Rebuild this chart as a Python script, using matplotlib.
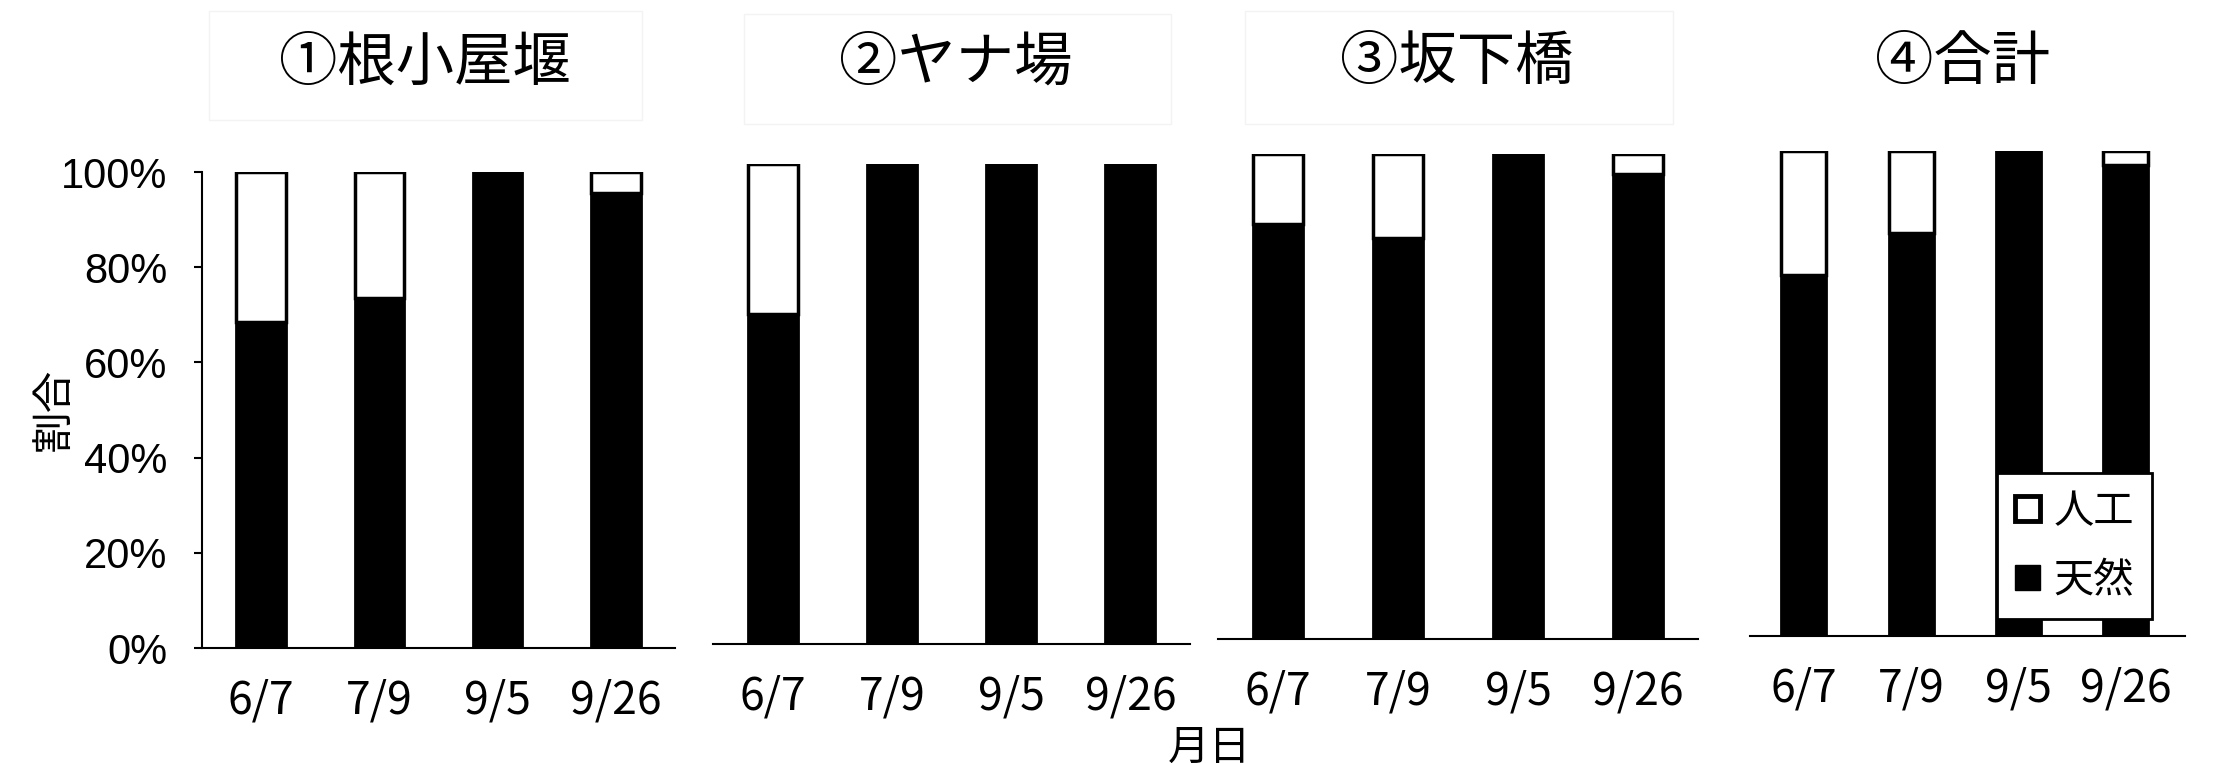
import numpy as np
import matplotlib.pyplot as plt
from matplotlib.patches import Rectangle, Patch

plt.rcParams['font.family'] = ['Noto Sans CJK JP', 'DejaVu Sans']

# sampling dates and sites
dates = ["6/7", "7/9", "9/5", "9/26"]
sites = ["①根小屋堰", "②ヤナ場", "③坂下橋", "④合計"]

# share of wild fish (天然), percent; the rest is hatchery (人工)
wild_1 = [68.5, 73.6, 100, 95.6]
wild_2 = [68.8, 100, 100, 100]
wild_3 = [85.5, 82.7, 100, 95.8]
wild_4 = [74.5, 83.0, 100, 97.2]
wild_all = [wild_1, wild_2, wild_3, wild_4]

W, H = 2213, 763
fig = plt.figure(figsize=(W / 100, H / 100), dpi=100)

# axes boxes in pixels: left, right, bottom(0%), top(100%)
boxes = [(202, 675, 648, 172),
         (713, 1190, 644, 164),
         (1218, 1698, 639, 154),
         (1750, 2185, 636, 151)]
xlims = [(-0.5, 3.5), (-0.5, 3.5), (-0.5, 3.5), (-0.5, 3.55)]

title_x = [425, 956, 1457, 1963]
title_boxes = [(209, 642, 11, 120), (744, 1171, 14, 124), (1245, 1673, 11, 124)]

barw = 0.42
x = np.arange(len(dates))

for i, (l, r, b, t) in enumerate(boxes):
    ax = fig.add_axes([l / W, 1 - b / H, (r - l) / W, (b - t) / H])
    wild = np.array(wild_all[i])
    art = 100 - wild
    ax.bar(x, wild / 100, width=barw, color='black', edgecolor='black', linewidth=2, label='天然')
    ax.bar(x, art / 100, bottom=wild / 100, width=barw, color='white', edgecolor='black',
           linewidth=2.5, label='人工')
    ax.set_xlim(*xlims[i])
    ax.set_ylim(0, 1)
    ax.set_xticks(x)
    ax.set_xticklabels(dates, fontsize=32)
    ax.tick_params(axis='x', length=0, pad=21)
    for s in ['top', 'right']:
        ax.spines[s].set_visible(False)
    ax.spines['bottom'].set_linewidth(1.5)
    if i == 0:
        ax.spines['left'].set_linewidth(1.5)
        ax.set_yticks(np.arange(0, 1.01, 0.2))
        ax.set_yticklabels([f"{v}%" for v in range(0, 101, 20)],
                           family=['Liberation Sans'], fontsize=30)
        ax.tick_params(axis='y', length=6, width=1.5, pad=19)
    else:
        ax.spines['left'].set_visible(False)
        ax.set_yticks([])
    if i == 3:
        handles = [Patch(facecolor='white', edgecolor='black', linewidth=3.5, label='人工'),
                   Patch(facecolor='black', edgecolor='black', label='天然')]
        leg = ax.legend(handles=handles, loc='lower right', bbox_to_anchor=(0.925, 0.035),
                        fontsize=29, handlelength=0.6, handleheight=0.6, handletextpad=0.35,
                        labelspacing=0.7, borderpad=0.45, borderaxespad=0, fancybox=False,
                        framealpha=1, edgecolor='black')
        leg.get_frame().set_linewidth(2)

    fig.text(title_x[i] / W, 1 - 63 / H, sites[i], ha='center', va='center', fontsize=42)

for (l, r, t, b) in title_boxes:
    fig.add_artist(Rectangle((l / W, 1 - b / H), (r - l) / W, (b - t) / H,
                             transform=fig.transFigure, fill=False, edgecolor='#f3f3f3',
                             linewidth=1))

fig.text(54 / W, 1 - 409 / H, "割合", rotation=90, ha='center', va='center', fontsize=30)
fig.text(1209 / W, 1 - 728 / H, "月日", ha='center', va='top', fontsize=30)

fig.savefig('out.png', dpi=100, facecolor='white')
